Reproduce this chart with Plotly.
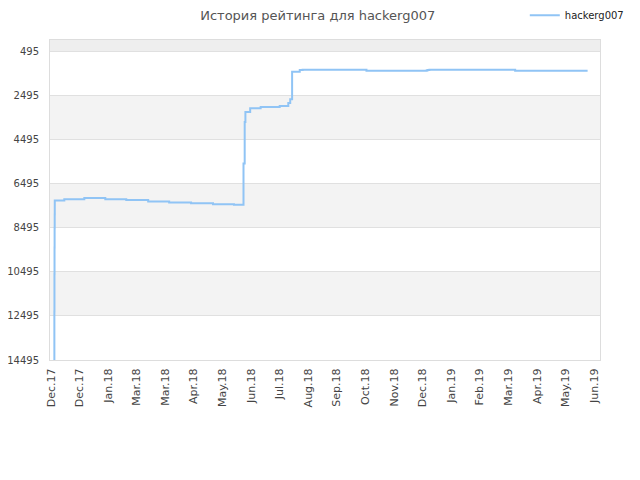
import pandas as pd
import plotly.graph_objects as go

# rating history (lower number = better place)
dates = [
    "2017-12-04 12:00", "2017-12-04 14:00", "2017-12-04 16:00", "2017-12-04 18:00",
    "2017-12-04 20:00", "2017-12-04 22:00", "2017-12-05 00:00",
    "2017-12-15", "2018-01-05", "2018-01-27", "2018-02-18", "2018-03-13",
    "2018-04-04", "2018-04-27", "2018-05-20", "2018-06-11",
    "2018-06-21 00:00", "2018-06-22 06:00", "2018-06-23", "2018-06-28", "2018-07-09",
    "2018-07-29", "2018-08-07", "2018-08-09", "2018-08-11", "2018-08-19",
    "2018-08-22", "2018-10-28", "2018-12-30", "2018-12-31", "2019-01-02",
    "2019-04-02", "2019-06-17",
]
ratings = [
    14495, 12300, 10600, 9400,
    8500, 7900, 7268,
    7210, 7150, 7210, 7250, 7310,
    7360, 7390, 7435, 7460,
    5586, 3708, 3254, 3086, 3026,
    2981, 2850, 2680, 1435, 1359,
    1345, 1390, 1375, 1355, 1345,
    1390, 1390,
]

y_ticks = [495, 2495, 4495, 6495, 8495, 10495, 12495, 14495]
x_ticks = pd.date_range("2017-12-01", periods=20, freq="30D")
x_labels = ["Dec.17", "Dec.17", "Jan.18", "Mar.18", "Mar.18", "Apr.18", "May.18",
            "Jun.18", "Jul.18", "Aug.18", "Sep.18", "Oct.18", "Nov.18", "Dec.18",
            "Jan.19", "Feb.19", "Mar.19", "Apr.19", "May.19", "Jun.19"]

y_top = -5

fig = go.Figure()
fig.add_trace(go.Scatter(
    x=pd.to_datetime(dates, format="mixed"), y=ratings, mode="lines", name="hackerg007",
    line=dict(color="#90c4f5", width=2, shape="hv"), showlegend=True,
))

# alternating bands
shapes = [dict(type="rect", xref="paper", yref="y", x0=0, x1=1, y0=y_top, y1=y_ticks[0],
               fillcolor="#eeeeee", line_width=0, layer="below")]
for i in range(1, len(y_ticks) - 1, 2):
    shapes.append(dict(type="rect", xref="paper", yref="y", x0=0, x1=1,
                       y0=y_ticks[i], y1=y_ticks[i + 1],
                       fillcolor="#f3f3f3", line_width=0, layer="below"))

# page body has an 8px margin, so margins are shifted to compensate
fig.update_layout(
    width=640, height=480,
    margin=dict(l=42, r=48, t=32, b=128, autoexpand=False),
    paper_bgcolor="white", plot_bgcolor="white",
    font=dict(family="DejaVu Sans", size=11, color="#444"),
    title=dict(text="История рейтинга для hackerg007", x=0.484, y=0.984,
               xref="container", yref="container",
               xanchor="center", yanchor="middle", font=dict(size=13, color="#555")),
    legend=dict(x=0.97, y=0.985, xref="container", yref="container",
                xanchor="right", yanchor="middle",
                font=dict(size=10, color="#222"), itemwidth=30,
                bgcolor="rgba(0,0,0,0)"),
    shapes=shapes,
    xaxis=dict(
        type="date", automargin=False,
        range=[pd.Timestamp("2017-11-30"), pd.Timestamp("2019-06-30")],
        tickvals=x_ticks, ticktext=x_labels, tickangle=-90,
        showgrid=False, zeroline=False, showline=True, linecolor="#dddddd", mirror=True,
        ticks="", tickfont=dict(size=11, color="#444"), ticklabelstandoff=3,
    ),
    yaxis=dict(
        automargin=False,
        range=[y_ticks[-1], y_top],
        tickvals=y_ticks, ticktext=[str(v) for v in y_ticks],
        showgrid=True, gridcolor="#e0e0e0", zeroline=False,
        showline=True, linecolor="#dddddd", mirror=True,
        ticks="", tickfont=dict(size=10, color="#444"), ticklabelstandoff=8,
    ),
)

fig.write_html("out.html")
